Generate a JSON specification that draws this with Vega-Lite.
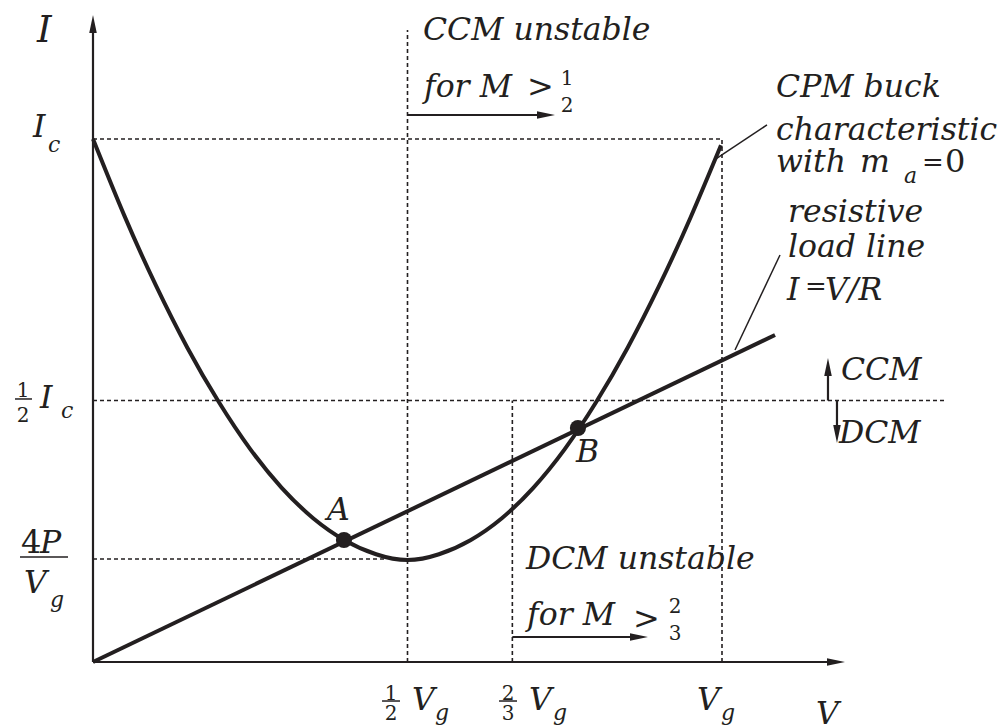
{
  "$schema": "https://vega.github.io/schema/vega-lite/v6.json",
  "width": 998,
  "height": 727,
  "autosize": "none",
  "padding": 0,
  "background": "white",
  "config": {"view": {"stroke": null}, "text": {"font": "DejaVu Serif", "color": "#231f20", "baseline": "alphabetic", "align": "left"}},
  "datasets": {
    "rules": [
      {"kind": "dash", "x": 0, "y": 1, "x2": 1, "y2": 1},
      {"kind": "dash", "x": 1, "y": 0, "x2": 1, "y2": 1},
      {"kind": "dash", "x": 0.5, "y": 0, "x2": 0.5, "y2": 1.2084},
      {"kind": "dash", "x": 0, "y": 0.5, "x2": 1.3545, "y2": 0.5},
      {"kind": "dash", "x": 0.6667, "y": 0, "x2": 0.6667, "y2": 0.5},
      {"kind": "dash", "x": 0, "y": 0.197, "x2": 0.464, "y2": 0.197},
      {"kind": "axis", "x": 0, "y": 0, "x2": 0, "y2": 1.2199},
      {"kind": "axis", "x": 0, "y": 0, "x2": 1.1812, "y2": 0},
      {"kind": "axis", "x": 0.5, "y": 1.0459, "x2": 0.7202, "y2": 1.0459},
      {"kind": "axis", "x": 0.6667, "y": 0.0478, "x2": 0.868, "y2": 0.0478},
      {"kind": "axis", "x": 1.1685, "y": 0.5, "x2": 1.1685, "y2": 0.5641},
      {"kind": "axis", "x": 1.1828, "y": 0.5, "x2": 1.1828, "y2": 0.4359},
      {"kind": "pointer", "x": 0.9873, "y": 0.9598, "x2": 1.0715, "y2": 1.0268},
      {"kind": "pointer", "x": 1.0207, "y": 0.5966, "x2": 1.0922, "y2": 0.7782},
      {"kind": "load", "x": 0, "y": 0, "x2": 1.0843, "y2": 0.6252},
      {"kind": "bar", "x": -0.124, "y": 0.5029, "x2": -0.097, "y2": 0.5029},
      {"kind": "bar", "x": -0.1161, "y": 0.2008, "x2": -0.0397, "y2": 0.2008},
      {"kind": "bar", "x": 0.4595, "y": -0.0746, "x2": 0.4881, "y2": -0.0746},
      {"kind": "bar", "x": 0.6455, "y": -0.0746, "x2": 0.6741, "y2": -0.0746}
    ],
    "curve": [
      {"x": 0.0, "y": 1.0},
      {"x": 0.05, "y": 0.853},
      {"x": 0.1, "y": 0.72},
      {"x": 0.15, "y": 0.601},
      {"x": 0.2, "y": 0.497},
      {"x": 0.25, "y": 0.407},
      {"x": 0.3, "y": 0.333},
      {"x": 0.35, "y": 0.275},
      {"x": 0.4, "y": 0.233},
      {"x": 0.45, "y": 0.206},
      {"x": 0.5, "y": 0.195},
      {"x": 0.55, "y": 0.206},
      {"x": 0.6, "y": 0.233},
      {"x": 0.65, "y": 0.275},
      {"x": 0.7, "y": 0.333},
      {"x": 0.75, "y": 0.407},
      {"x": 0.8, "y": 0.497},
      {"x": 0.85, "y": 0.601},
      {"x": 0.9, "y": 0.719},
      {"x": 0.95, "y": 0.85},
      {"x": 0.9984, "y": 0.988}
    ],
    "dots": [
      {"name": "A", "x": 0.399, "y": 0.2333},
      {"name": "B", "x": 0.771, "y": 0.4474}
    ],
    "heads": [
      {"dir": "up", "x": 0, "y": 1.2199},
      {"dir": "right", "x": 1.1812, "y": 0},
      {"dir": "right", "x": 0.7202, "y": 1.0459},
      {"dir": "right", "x": 0.868, "y": 0.0478},
      {"dir": "up", "x": 1.1685, "y": 0.5641},
      {"dir": "down", "x": 1.1828, "y": 0.4359}
    ],
    "labels": [
      {"kind": "big", "text": "I", "x": -0.089, "y": 1.1855},
      {"kind": "main", "text": "I", "x": -0.0954, "y": 1.0038},
      {"kind": "main", "text": "CCM unstable", "x": 0.5246, "y": 1.1893},
      {"kind": "main", "text": "for M", "x": 0.5262, "y": 1.0803},
      {"kind": "main", "text": "CPM buck", "x": 1.0859, "y": 1.0803},
      {"kind": "main", "text": "characteristic", "x": 1.0859, "y": 0.9981},
      {"kind": "main", "text": "with", "x": 1.0859, "y": 0.9369},
      {"kind": "main", "text": "m", "x": 1.2194, "y": 0.9369},
      {"kind": "main", "text": "resistive", "x": 1.1049, "y": 0.8413},
      {"kind": "main", "text": "load line", "x": 1.1049, "y": 0.7744},
      {"kind": "main", "text": "I", "x": 1.1033, "y": 0.6922},
      {"kind": "main", "text": "V/R", "x": 1.1638, "y": 0.6922},
      {"kind": "main", "text": "CCM", "x": 1.1892, "y": 0.5392},
      {"kind": "main", "text": "DCM", "x": 1.186, "y": 0.4187},
      {"kind": "main", "text": "A", "x": 0.372, "y": 0.2715},
      {"kind": "main", "text": "B", "x": 0.7679, "y": 0.3824},
      {"kind": "main", "text": "DCM unstable", "x": 0.6884, "y": 0.1778},
      {"kind": "main", "text": "for M", "x": 0.69, "y": 0.0707},
      {"kind": "main", "text": "V", "x": 0.5072, "y": -0.0918},
      {"kind": "main", "text": "V", "x": 0.6932, "y": -0.0918},
      {"kind": "main", "text": "V", "x": 0.9603, "y": -0.0918},
      {"kind": "main", "text": "V", "x": 1.1494, "y": -0.1185},
      {"kind": "main", "text": "I", "x": -0.0843, "y": 0.4857},
      {"kind": "main", "text": "P", "x": -0.0843, "y": 0.2084},
      {"kind": "main", "text": "V", "x": -0.1097, "y": 0.1319},
      {"kind": "sub", "text": "c", "x": -0.0715, "y": 0.9751},
      {"kind": "sub", "text": "a", "x": 1.2893, "y": 0.9159},
      {"kind": "sub", "text": "c", "x": -0.0509, "y": 0.4665},
      {"kind": "sub", "text": "g", "x": -0.0684, "y": 0.1052},
      {"kind": "sub", "text": "g", "x": 0.5437, "y": -0.1109},
      {"kind": "sub", "text": "g", "x": 0.7313, "y": -0.1109},
      {"kind": "sub", "text": "g", "x": 0.9984, "y": -0.1109},
      {"kind": "op", "text": "=", "x": 1.318, "y": 0.9388},
      {"kind": "roman", "text": "0", "x": 1.3545, "y": 0.9369},
      {"kind": "op", "text": "=", "x": 1.132, "y": 0.7017},
      {"kind": "roman", "text": ">", "x": 0.69, "y": 1.0803},
      {"kind": "roman", "text": ">", "x": 0.8585, "y": 0.0631},
      {"kind": "roman", "text": "4", "x": -0.1145, "y": 0.2084},
      {"kind": "frac", "text": "1", "x": 0.7536, "y": 1.1033},
      {"kind": "frac", "text": "2", "x": 0.7536, "y": 1.0516},
      {"kind": "frac", "text": "2", "x": 0.9253, "y": 0.0937},
      {"kind": "frac", "text": "3", "x": 0.9253, "y": 0.0421},
      {"kind": "frac", "text": "1", "x": -0.1113, "y": 0.5067},
      {"kind": "frac", "text": "2", "x": -0.1113, "y": 0.4589},
      {"kind": "frac", "text": "1", "x": 0.4738, "y": -0.0727},
      {"kind": "frac", "text": "2", "x": 0.4738, "y": -0.1109},
      {"kind": "frac", "text": "2", "x": 0.6598, "y": -0.0727},
      {"kind": "frac", "text": "3", "x": 0.6598, "y": -0.1109}
    ]
  },
  "layer": [
    {
      "data": {"name": "rules"},
      "transform": [{"filter": "datum.kind === 'dash'"}],
      "mark": {"type": "rule", "color": "#231f20", "strokeWidth": 1.6, "strokeDash": [4, 3]},
      "encoding": {
        "x": {"field": "x", "type": "quantitative", "scale": {"domain": [-0.147854, 1.438792], "nice": false, "zero": false}, "axis": null},
        "y": {"field": "y", "type": "quantitative", "scale": {"domain": [-0.124283, 1.265774], "nice": false, "zero": false}, "axis": null},
        "x2": {"field": "x2"},
        "y2": {"field": "y2"}
      }
    },
    {
      "data": {"name": "rules"},
      "transform": [{"filter": "datum.kind === 'axis'"}],
      "mark": {"type": "rule", "color": "#231f20", "strokeWidth": 2.2},
      "encoding": {
        "x": {"field": "x", "type": "quantitative"},
        "y": {"field": "y", "type": "quantitative"},
        "x2": {"field": "x2"},
        "y2": {"field": "y2"}
      }
    },
    {
      "data": {"name": "rules"},
      "transform": [{"filter": "datum.kind === 'pointer' || datum.kind === 'bar'"}],
      "mark": {"type": "rule", "color": "#231f20", "strokeWidth": 1.5},
      "encoding": {
        "x": {"field": "x", "type": "quantitative"},
        "y": {"field": "y", "type": "quantitative"},
        "x2": {"field": "x2"},
        "y2": {"field": "y2"}
      }
    },
    {
      "data": {"name": "rules"},
      "transform": [{"filter": "datum.kind === 'load'"}],
      "mark": {"type": "rule", "color": "#231f20", "strokeWidth": 4},
      "encoding": {
        "x": {"field": "x", "type": "quantitative"},
        "y": {"field": "y", "type": "quantitative"},
        "x2": {"field": "x2"},
        "y2": {"field": "y2"}
      }
    },
    {
      "data": {"name": "curve"},
      "mark": {"type": "line", "color": "#231f20", "strokeWidth": 4, "interpolate": "natural"},
      "encoding": {
        "x": {"field": "x", "type": "quantitative"},
        "y": {"field": "y", "type": "quantitative"}
      }
    },
    {
      "data": {"name": "dots"},
      "mark": {"type": "point", "shape": "circle", "filled": true, "color": "#231f20", "size": 260, "opacity": 1},
      "encoding": {
        "x": {"field": "x", "type": "quantitative"},
        "y": {"field": "y", "type": "quantitative"}
      }
    },
    {
      "data": {"name": "heads"},
      "mark": {"type": "point", "filled": true, "color": "#231f20", "size": 324, "opacity": 1, "strokeWidth": 0},
      "encoding": {
        "x": {"field": "x", "type": "quantitative"},
        "y": {"field": "y", "type": "quantitative"},
        "shape": {
          "field": "dir", "type": "nominal", "legend": null,
          "scale": {"domain": ["up", "right", "down"], "range": ["M0,-1L-0.42,1L0.42,1Z", "M1,0L-1,-0.42L-1,0.42Z", "M0,1L-0.42,-1L0.42,-1Z"]}
        }
      }
    },
    {
      "data": {"name": "labels"},
      "transform": [{"filter": "datum.kind === 'main'"}],
      "mark": {"type": "text", "fontStyle": "italic", "fontSize": 31.5},
      "encoding": {
        "x": {"field": "x", "type": "quantitative"},
        "y": {"field": "y", "type": "quantitative"},
        "text": {"field": "text"}
      }
    },
    {
      "data": {"name": "labels"},
      "transform": [{"filter": "datum.kind === 'big'"}],
      "mark": {"type": "text", "fontStyle": "italic", "fontSize": 37},
      "encoding": {
        "x": {"field": "x", "type": "quantitative"},
        "y": {"field": "y", "type": "quantitative"},
        "text": {"field": "text"}
      }
    },
    {
      "data": {"name": "labels"},
      "transform": [{"filter": "datum.kind === 'sub'"}],
      "mark": {"type": "text", "fontStyle": "italic", "fontSize": 22},
      "encoding": {
        "x": {"field": "x", "type": "quantitative"},
        "y": {"field": "y", "type": "quantitative"},
        "text": {"field": "text"}
      }
    },
    {
      "data": {"name": "labels"},
      "transform": [{"filter": "datum.kind === 'roman'"}],
      "mark": {"type": "text", "fontSize": 32},
      "encoding": {
        "x": {"field": "x", "type": "quantitative"},
        "y": {"field": "y", "type": "quantitative"},
        "text": {"field": "text"}
      }
    },
    {
      "data": {"name": "labels"},
      "transform": [{"filter": "datum.kind === 'op'"}],
      "mark": {"type": "text", "fontSize": 26},
      "encoding": {
        "x": {"field": "x", "type": "quantitative"},
        "y": {"field": "y", "type": "quantitative"},
        "text": {"field": "text"}
      }
    },
    {
      "data": {"name": "labels"},
      "transform": [{"filter": "datum.kind === 'frac'"}],
      "mark": {"type": "text", "fontSize": 20, "align": "center"},
      "encoding": {
        "x": {"field": "x", "type": "quantitative"},
        "y": {"field": "y", "type": "quantitative"},
        "text": {"field": "text"}
      }
    }
  ]
}
